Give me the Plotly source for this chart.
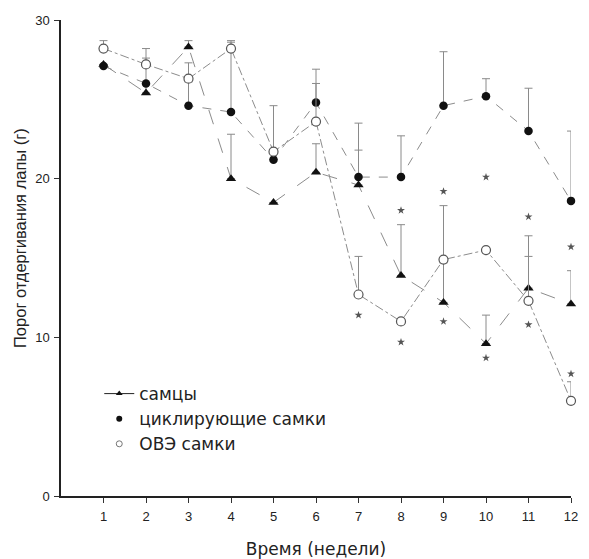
import plotly.graph_objects as go

weeks = [1, 2, 3, 4, 5, 6, 7, 8, 9, 10, 11, 12]

males = [27.2, 25.4, 28.3, 20.0, 18.5, 20.4, 19.6, 13.9, 12.2, 9.6, 13.1, 12.1]
males_err = [0.0, 2.2, 0.4, 2.8, 0.0, 1.8, 2.2, 3.2, 2.5, 1.8, 2.0, 2.1]

cycling = [27.1, 26.0, 24.6, 24.2, 21.2, 24.8, 20.1, 20.1, 24.6, 25.2, 23.0, 18.6]
cycling_err = [0.0, 0.0, 1.5, 4.4, 0.0, 2.1, 3.4, 2.6, 3.4, 1.1, 2.7, 4.4]

ove = [28.2, 27.2, 26.3, 28.2, 21.7, 23.6, 12.7, 11.0, 14.9, 15.5, 12.3, 6.0]
ove_err = [0.5, 1.0, 1.0, 0.5, 2.9, 2.4, 2.4, 0.0, 3.4, 0.0, 4.1, 1.2]

star_weeks = [7, 8, 8, 9, 9, 10, 10, 11, 11, 12, 12]
star_values = [11.4, 18.0, 9.7, 19.2, 11.0, 20.1, 8.7, 17.6, 10.8, 15.7, 7.7]

y_ticks = [0, 10, 20, 30]
names = ["самцы", "циклирующие самки", "ОВЭ самки"]

FONT = "Liberation Sans, Arial, sans-serif"
WIDE = "DejaVu Sans, sans-serif"
TXT = "#222222"
LINE_GRAY = "#8c8c8c"
ERR_GRAY = "#8a8a8a"

fig = go.Figure()


def err(vals):
    return dict(type="data", symmetric=False, array=vals,
                arrayminus=[0] * len(vals), color=ERR_GRAY,
                thickness=1, width=4)


fig.add_trace(go.Scatter(
    x=weeks, y=males, mode="lines+markers", showlegend=False,
    line=dict(color=LINE_GRAY, width=1, dash="longdash"),
    marker=dict(symbol="triangle-up", size=9, color="#111111"),
    error_y=err(males_err), cliponaxis=False))

fig.add_trace(go.Scatter(
    x=weeks, y=cycling, mode="lines+markers", showlegend=False,
    line=dict(color=LINE_GRAY, width=1, dash="dash"),
    marker=dict(symbol="circle", size=8.5, color="#111111"),
    error_y=err(cycling_err), cliponaxis=False))

fig.add_trace(go.Scatter(
    x=weeks, y=ove, mode="lines+markers", showlegend=False,
    line=dict(color=LINE_GRAY, width=1, dash="dashdot"),
    marker=dict(symbol="circle", size=9, color="white",
                line=dict(color="#555555", width=1.2)),
    error_y=err(ove_err), cliponaxis=False))

fig.add_trace(go.Scatter(
    x=star_weeks, y=star_values, mode="markers", showlegend=False,
    marker=dict(symbol="star", size=6, color="#555555"),
    cliponaxis=False))

# legend entries
fig.add_trace(go.Scatter(
    x=[None], y=[None], mode="lines+markers", name=names[0],
    line=dict(color="#222222", width=1),
    marker=dict(symbol="triangle-up", size=6, color="#111111")))
fig.add_trace(go.Scatter(
    x=[None], y=[None], mode="markers", name=names[1],
    marker=dict(symbol="circle", size=6, color="#111111")))
fig.add_trace(go.Scatter(
    x=[None], y=[None], mode="markers", name=names[2],
    marker=dict(symbol="circle-open", size=6, color="#777777")))

fig.update_layout(
    width=589, height=559,
    margin=dict(l=61, r=18, t=20, b=63, autoexpand=False),
    paper_bgcolor="white", plot_bgcolor="white",
    font=dict(family=FONT, color=TXT, size=13),
    legend=dict(x=0.075, y=0.252, xanchor="left", yanchor="top",
                bgcolor="rgba(0,0,0,0)", borderwidth=0,
                font=dict(size=17, color=TXT, family=WIDE),
                itemwidth=30, tracegroupgap=0),
    xaxis=dict(range=[0, 12], tickmode="array", tickvals=weeks,
               automargin=False,
               showline=True, linecolor="#222222", linewidth=1.5,
               ticks="outside", ticklen=5, tickwidth=1, tickcolor="#333333",
               ticklabelstandoff=3,
               showgrid=False, zeroline=False,
               tickfont=dict(size=13, color=TXT),
               title=dict(text="Время (недели)", standoff=20,
                          font=dict(size=17, color=TXT, family=WIDE))),
    yaxis=dict(range=[0, 30], tickmode="array", tickvals=y_ticks,
               automargin=False,
               showline=True, linecolor="#222222", linewidth=1.5,
               ticks="outside", ticklen=5, tickwidth=1, tickcolor="#333333",
               ticklabelstandoff=2,
               showgrid=False, zeroline=False,
               tickfont=dict(size=13, color=TXT)),
    annotations=[dict(text="Порог отдергивания лапы (г)", xref="paper",
                      yref="paper", x=-0.0804, y=0.542, xanchor="center",
                      yanchor="middle", textangle=-90, showarrow=False,
                      font=dict(size=16.5, color=TXT, family=FONT))],
)

fig.write_html("out.html", config={"displayModeBar": False},
               post_script="document.body.style.margin='0';")
